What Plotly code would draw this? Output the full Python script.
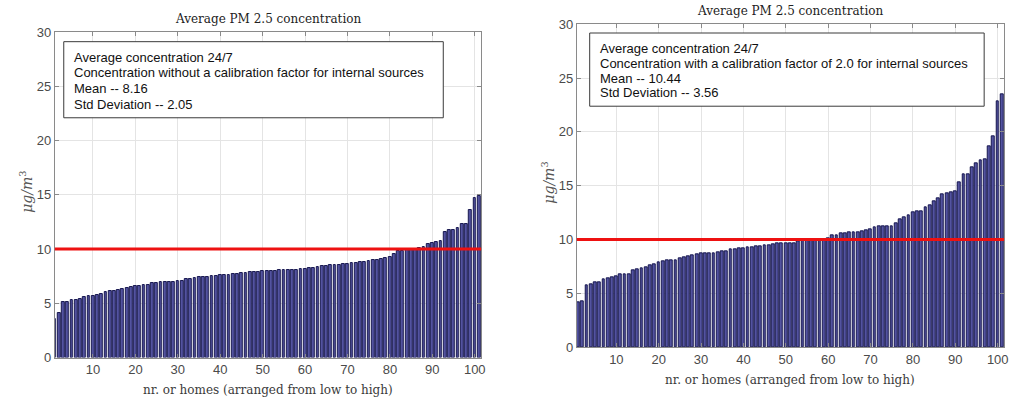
import plotly.graph_objects as go

homes = list(range(1, 102))

conc_no_cal = [
    3.6, 4.1, 5.1, 5.15, 5.3, 5.35, 5.4, 5.55, 5.7, 5.7,
    5.75, 5.9, 6.05, 6.1, 6.1, 6.25, 6.3, 6.45, 6.5, 6.55,
    6.6, 6.65, 6.7, 6.85, 6.9, 6.95, 7.0, 7.0, 7.0, 7.05,
    7.1, 7.2, 7.25, 7.3, 7.4, 7.45, 7.45, 7.5, 7.55, 7.6,
    7.6, 7.65, 7.7, 7.7, 7.75, 7.8, 7.85, 7.9, 7.9, 7.95,
    8.0, 8.0, 8.0, 8.05, 8.05, 8.05, 8.1, 8.1, 8.15, 8.15,
    8.25, 8.3, 8.35, 8.4, 8.45, 8.5, 8.5, 8.55, 8.6, 8.65,
    8.7, 8.75, 8.8, 8.85, 8.9, 8.95, 9.0, 9.1, 9.2, 9.3,
    9.5, 9.8, 9.85, 9.9, 9.95, 10.05, 10.1, 10.2, 10.5, 10.6,
    10.65, 10.7, 11.6, 11.75, 11.8, 11.9, 12.3, 12.35, 13.6, 14.7,
    14.85,
]

conc_cal = [
    4.15, 4.25, 5.75, 5.8, 6.0, 6.05, 6.3, 6.4, 6.5, 6.6,
    6.75, 6.75, 6.75, 7.1, 7.25, 7.3, 7.45, 7.6, 7.7, 7.9,
    8.0, 8.05, 8.05, 8.1, 8.25, 8.3, 8.45, 8.5, 8.6, 8.7,
    8.7, 8.7, 8.75, 8.8, 8.85, 8.9, 9.05, 9.1, 9.15, 9.2,
    9.25, 9.3, 9.35, 9.4, 9.45, 9.5, 9.55, 9.6, 9.6, 9.6,
    9.6, 9.65, 9.85, 9.9, 9.95, 9.95, 10.0, 10.0, 10.05, 10.15,
    10.35, 10.35, 10.55, 10.6, 10.65, 10.65, 10.7, 10.75, 10.85, 10.95,
    11.15, 11.2, 11.2, 11.2, 11.2, 11.5, 11.85, 12.1, 12.2, 12.55,
    12.6, 12.65, 13.0, 13.2, 13.55, 13.8, 14.2, 14.25, 14.4, 14.5,
    15.3, 16.1, 16.1, 16.7, 17.1, 17.4, 17.45, 18.65, 19.55, 22.8,
    23.5,
]

limit_value = 10
title_text = "Average PM 2.5 concentration"
xlabel_text = "nr. or homes (arranged from low to high)"
ylabel_text = "<i>μg/m</i><sup>3</sup>"
box_left = ["Average concentration 24/7",
            "Concentration without a calibration factor for internal sources",
            "Mean -- 8.16",
            "Std Deviation -- 2.05"]
box_right = ["Average concentration 24/7",
             "Concentration with a calibration factor of 2.0 for internal sources",
             "Mean -- 10.44",
             "Std Deviation -- 3.56"]
x_ticks = [10, 20, 30, 40, 50, 60, 70, 80, 90, 100]
y_ticks = [0, 5, 10, 15, 20, 25, 30]

W, H = 1029, 408
BAR_FILL = "#5353a0"
BAR_EDGE = "#17174f"
TICK_FONT = dict(family="Liberation Sans, Arial, sans-serif", size=13, color="#4a4a4a")
SERIF = "DejaVu Serif, Liberation Serif, serif"

fig = go.Figure()
fig.add_trace(go.Bar(x=homes, y=conc_no_cal, width=0.66, xaxis="x", yaxis="y",
                     marker=dict(color=BAR_FILL, line=dict(color=BAR_EDGE, width=1)),
                     showlegend=False))
fig.add_trace(go.Bar(x=homes, y=conc_cal, width=0.66, xaxis="x2", yaxis="y2",
                     marker=dict(color=BAR_FILL, line=dict(color=BAR_EDGE, width=1)),
                     showlegend=False))

# plot rectangles in pixels
L = dict(x0=55, x1=483, y0=26, y1=364)
R = dict(x0=579, x1=1008, y0=18, y1=353)

def xd(p):
    return [p["x0"] / W, p["x1"] / W]

def yd(p):
    return [1 - p["y1"] / H, 1 - p["y0"] / H]

axis_common = dict(showline=True, linecolor="#8a8a8a", linewidth=1, mirror="ticks",
                   ticks="inside", ticklen=4, tickcolor="#8a8a8a",
                   showgrid=True, gridcolor="#e4e4e4", gridwidth=1,
                   zeroline=False, tickfont=TICK_FONT)

fig.update_layout(
    width=W, height=H,
    margin=dict(l=0, r=0, t=0, b=0),
    paper_bgcolor="white", plot_bgcolor="white",
    bargap=0,
    xaxis=dict(domain=xd(L), range=[1.0, 101.5], tickvals=x_ticks, anchor="y", **axis_common),
    yaxis=dict(domain=yd(L), range=[0, 30], tickvals=y_ticks, anchor="x", **axis_common),
    xaxis2=dict(domain=xd(R), range=[0.65, 101.5], tickvals=x_ticks, anchor="y2", **axis_common),
    yaxis2=dict(domain=yd(R), range=[0, 30], tickvals=y_ticks, anchor="x2", **axis_common),
)

shapes = []
annotations = []
for xa, ya, P, lines, box in [("x", "y", L, box_left, (64, 36, 445, 115)),
                              ("x2", "y2", R, box_right, (592, 27, 988, 103))]:
    # limit line
    shapes.append(dict(type="line", xref=f"{xa} domain", yref=ya, x0=0, x1=1,
                       y0=limit_value, y1=limit_value, line=dict(color="#ee1111", width=3)))
    # text box
    bx0, by0, bx1, by1 = box
    shapes.append(dict(type="rect", xref="paper", yref="paper",
                       x0=bx0 / W, x1=bx1 / W, y0=1 - by1 / H, y1=1 - by0 / H,
                       fillcolor="white", line=dict(color="#3a3a3a", width=1)))
    lh = (by1 - by0 - 14) / 4
    for i, t in enumerate(lines):
        annotations.append(dict(xref="paper", yref="paper", x=(bx0 + 8) / W,
                                y=1 - (by0 + 8 + lh * (i + 0.5)) / H,
                                xanchor="left", yanchor="middle", showarrow=False,
                                text=t, font=dict(family="Liberation Sans, Arial, sans-serif",
                                                  size=13, color="#111111")))
    cx = (P["x0"] + P["x1"]) / 2
    annotations.append(dict(xref="paper", yref="paper", x=cx / W, y=1 - (P["y0"] - 14) / H,
                            xanchor="center", yanchor="middle", showarrow=False,
                            text=title_text, font=dict(family=SERIF, size=12, color="#222222")))
    annotations.append(dict(xref="paper", yref="paper", x=cx / W, y=1 - (P["y1"] + 34) / H,
                            xanchor="center", yanchor="middle", showarrow=False,
                            text=xlabel_text, font=dict(family=SERIF, size=12, color="#3a3a3a")))
    annotations.append(dict(xref="paper", yref="paper", x=(P["x0"] - 29) / W,
                            y=1 - ((P["y0"] + P["y1"]) / 2 - 3) / H,
                            xanchor="center", yanchor="middle", showarrow=False, textangle=-90,
                            text=ylabel_text, font=dict(family=SERIF, size=14, color="#555555")))

fig.update_layout(shapes=shapes, annotations=annotations)
fig.write_html("out.html")
